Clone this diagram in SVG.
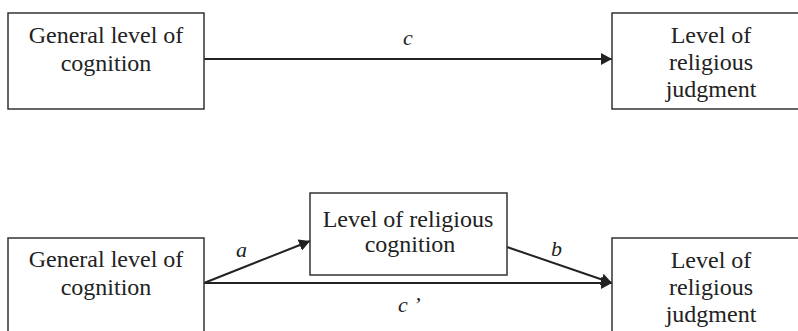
<svg xmlns="http://www.w3.org/2000/svg" width="798" height="331" viewBox="0 0 798 331">
<style>
.box{fill:#fff;stroke:#333;stroke-width:1.5}
.t{font-family:'Liberation Serif','Times New Roman','DejaVu Serif',serif;font-size:24px;fill:#222;text-anchor:middle}
.lbl{font-family:'Liberation Serif','Times New Roman','DejaVu Serif',serif;font-size:22px;font-style:italic;fill:#222}
.edge{stroke:#222;stroke-width:2;fill:none}
</style>
<defs>
<marker id="ah" markerWidth="11" markerHeight="12" refX="11" refY="6" orient="auto" markerUnits="userSpaceOnUse">
<path d="M0,0 L11,6 L0,12 Z" fill="#222"/>
</marker>
</defs>
<rect width="798" height="331" fill="#fff"/>
<g id="connectors">
<line class="edge" x1="204" y1="59" x2="612" y2="59" marker-end="url(#ah)"/>
<line class="edge" x1="204" y1="283" x2="310" y2="241" marker-end="url(#ah)"/>
<line class="edge" x1="507" y1="247" x2="612" y2="283" marker-end="url(#ah)"/>
<line class="edge" x1="204" y1="283" x2="612" y2="283" marker-end="url(#ah)"/>
<text class="lbl" x="403" y="45">c</text>
<text class="lbl" x="236" y="257">a</text>
<text class="lbl" x="551" y="256">b</text>
<text class="lbl" x="398" y="312">c ’</text>
</g>
<g id="general1">
<rect class="box" x="8" y="13" width="196" height="96"/>
<text class="t" x="106" y="43">General level of</text>
<text class="t" x="106" y="71">cognition</text>
</g>
<g id="judgment1">
<rect class="box" x="612" y="13" width="200" height="96"/>
<text class="t" x="711" y="43">Level of</text>
<text class="t" x="711" y="70">religious</text>
<text class="t" x="711" y="97">judgment</text>
</g>
<g id="general2">
<rect class="box" x="8" y="238" width="196" height="100"/>
<text class="t" x="106" y="267">General level of</text>
<text class="t" x="106" y="295">cognition</text>
</g>
<g id="religiouscog">
<rect class="box" x="310" y="193" width="197" height="82"/>
<text class="t" x="408" y="227">Level of religious</text>
<text class="t" x="410" y="252">cognition</text>
</g>
<g id="judgment2">
<rect class="box" x="612" y="238" width="200" height="100"/>
<text class="t" x="711" y="268">Level of</text>
<text class="t" x="711" y="295">religious</text>
<text class="t" x="711" y="322">judgment</text>
</g>
</svg>
